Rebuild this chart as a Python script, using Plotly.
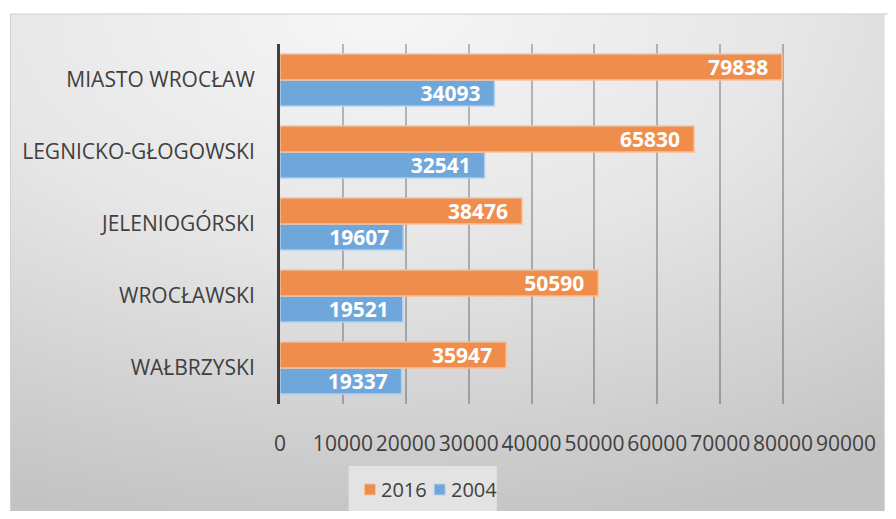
import base64
import plotly.graph_objects as go

# data (bottom to top)
regions = ["WAŁBRZYSKI", "WROCŁAWSKI", "JELENIOGÓRSKI", "LEGNICKO-GŁOGOWSKI", "MIASTO WROCŁAW"]
vals_2004 = [19337, 19521, 19607, 32541, 34093]
vals_2016 = [35947, 50590, 38476, 65830, 79838]
x_ticks = [0, 10000, 20000, 30000, 40000, 50000, 60000, 70000, 80000, 90000]

# page has an 8px body margin, so the figure is drawn 8px smaller on each side
W, H = 880, 503
ml, mr, mt, mb = 272, 39, 36, 107
pw, ph = W - ml - mr, H - mt - mb


def px_to_paper_x(px):
    return (px - ml) / pw


def px_to_paper_y(py):
    return (H - mb - py) / ph


# soft grey gradient behind the whole chart panel
svg = """<svg xmlns='http://www.w3.org/2000/svg' width='880' height='500' preserveAspectRatio='none'>
<defs><radialGradient id='g' cx='0.42' cy='0' r='1.05' fx='0.42' fy='0'>
<stop offset='0' stop-color='#f6f6f6'/>
<stop offset='0.45' stop-color='#e6e6e6'/>
<stop offset='1' stop-color='#c3c3c3'/>
</radialGradient></defs>
<rect width='880' height='500' fill='url(#g)'/></svg>"""
bg_src = "data:image/svg+xml;base64," + base64.b64encode(svg.encode()).decode()

pad = "\u00a0" * 2
label_font = dict(family="Open Sans", size=21, color="white")
colors = {"2004": ("#6fa7da", "#b3d0ee"), "2016": ("#ef8d4d", "#f7bf98")}

fig = go.Figure()
for name, vals in [("2004", vals_2004), ("2016", vals_2016)]:
    fill, edge = colors[name]
    fig.add_trace(go.Bar(
        y=regions, x=vals, name=name, orientation="h",
        marker=dict(color=fill, line=dict(color=edge, width=1.5)),
        text=[f"<b>{v}</b>{pad}" for v in vals],
        textposition="inside", insidetextanchor="end", constraintext="none",
        textfont=label_font, hoverinfo="x+name", showlegend=False,
    ))

fig.add_layout_image(dict(
    source=bg_src, xref="paper", yref="paper",
    x=px_to_paper_x(1), y=px_to_paper_y(6),
    sizex=(W - 1) / pw, sizey=(H - 6) / ph,
    xanchor="left", yanchor="top", sizing="stretch", layer="below",
))
fig.add_shape(type="rect", xref="paper", yref="paper",
              x0=px_to_paper_x(1), x1=px_to_paper_x(W + 5),
              y0=px_to_paper_y(H + 5), y1=px_to_paper_y(6),
              line=dict(color="#cfcfcf", width=1), layer="below")

# legend drawn by hand: light box, two swatches and labels
fig.add_shape(type="rect", xref="paper", yref="paper",
              x0=px_to_paper_x(341), x1=px_to_paper_x(490),
              y0=px_to_paper_y(504), y1=px_to_paper_y(458),
              fillcolor="#e3e3e3", line=dict(width=0), layer="below")
for i, name in enumerate(["2016", "2004"]):
    fill, edge = colors[name]
    left = 357 + i * 70
    fig.add_shape(type="rect", xref="paper", yref="paper",
                  x0=px_to_paper_x(left), x1=px_to_paper_x(left + 11),
                  y0=px_to_paper_y(487), y1=px_to_paper_y(476),
                  fillcolor=fill, line=dict(color=edge, width=1))
    fig.add_annotation(xref="paper", yref="paper",
                       x=px_to_paper_x(left + 15), y=px_to_paper_y(481),
                       xanchor="left", yanchor="middle", showarrow=False,
                       text=name, font=dict(size=20, color="#404040"))

fig.update_layout(
    width=W, height=H,
    margin=dict(l=ml, r=mr, t=mt, b=mb),
    paper_bgcolor="white", plot_bgcolor="rgba(0,0,0,0)",
    barmode="group", bargap=0.28, bargroupgap=0,
    font=dict(family="Open Sans", size=21, color="#404040"),
    showlegend=False,
    xaxis=dict(
        range=[0, 90000], tickvals=x_ticks, ticktext=[str(t) for t in x_ticks],
        showgrid=True, gridcolor="rgba(0,0,0,0.25)", gridwidth=1.5,
        zeroline=False, showline=False, ticks="", ticklabelstandoff=25,
        fixedrange=True,
    ),
    yaxis=dict(
        categoryorder="array", categoryarray=regions,
        showgrid=False, showline=True, linecolor="#404040", linewidth=3,
        ticks="", ticklabelstandoff=18, fixedrange=True,
    ),
)

fig.write_html("out.html")
